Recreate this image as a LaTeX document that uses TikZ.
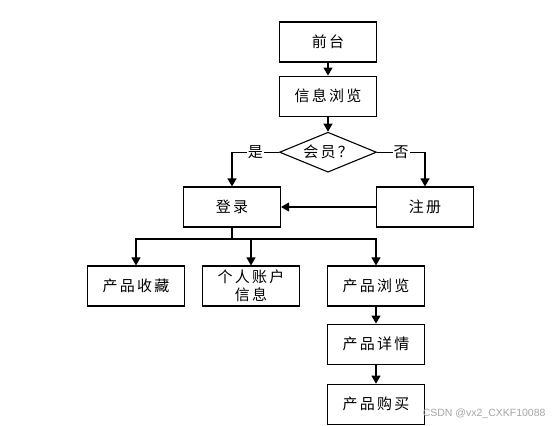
\documentclass[tikz,border=0pt]{standalone}
\usepackage{fontspec}
\setmainfont{Noto Sans CJK SC}
\newfontfamily\wmfont{Liberation Sans}
\usepackage{tikz}
\usetikzlibrary{arrows.meta,positioning,shapes.geometric}

\begin{document}
\begin{tikzpicture}[x=1pt, y=-1pt,
      box/.style={draw, line width=1.1pt, minimum width=97pt,
                  minimum height=40pt, inner sep=0pt,
                  font=\fontsize{15}{18}\selectfont\addfontfeature{LetterSpace=15},
                  align=center},
      choice/.style={draw, diamond, aspect=2.42, line width=1.1pt,
                  minimum width=97pt, minimum height=40pt, inner sep=0pt,
                  font=\fontsize{15}{18}\selectfont\addfontfeature{LetterSpace=15}},
      lbl/.style={fill=white, inner sep=1pt,
                  font=\fontsize{15}{18}\selectfont},
      arr/.style={-{Triangle[length=8pt, width=9pt]}, line width=1.1pt}
  ]
    \useasboundingbox (0,0) rectangle (552,426);
    \node[box] (qt) at (328,42)  {前台};
    \node[box, below=13pt of qt] (xx) {信息浏览};
    \node[choice, below=15pt of xx] (hy) {会员？};
    \node[box] (dl) at (232,207) {登录};
    \node[box] (zc) at (425,207) {注册};
    \node[box] (sc) at (136,286) {产品收藏};
    \node[box] (zh) at (251,286) {个人账户\\信息};
    \node[box] (cl) at (376,286) {产品浏览};
    \node[box, below=17pt of cl] (xq) {产品详情};
    \node[box, below=19pt of xq] (gm) {产品购买};
    \coordinate (fork) at (232,239);
    \draw[arr] (qt) -- (xx);
    \draw[arr] (xx) -- (hy);
    \draw[arr] (hy.west) -| node[lbl, pos=0.25] {是} (dl);
    \draw[arr] (hy.east) -| node[lbl, pos=0.25] {否} (zc);
    \draw[arr] (zc) -- (dl);
    \draw[line width=1.1pt] (dl) -- (fork);
    \draw[arr] (fork) -| (sc);
    \draw[arr] (fork) -| (zh);
    \draw[arr] (fork) -| (cl);
    \draw[arr] (cl) -- (xq);
    \draw[arr] (xq) -- (gm);
    \node[anchor=east, text=black!35, font=\wmfont\fontsize{10.5}{12}\selectfont]
      (wm) at (549,414) {CSDN @vx2\_CXKF10088};
  \end{tikzpicture}
\end{document}
